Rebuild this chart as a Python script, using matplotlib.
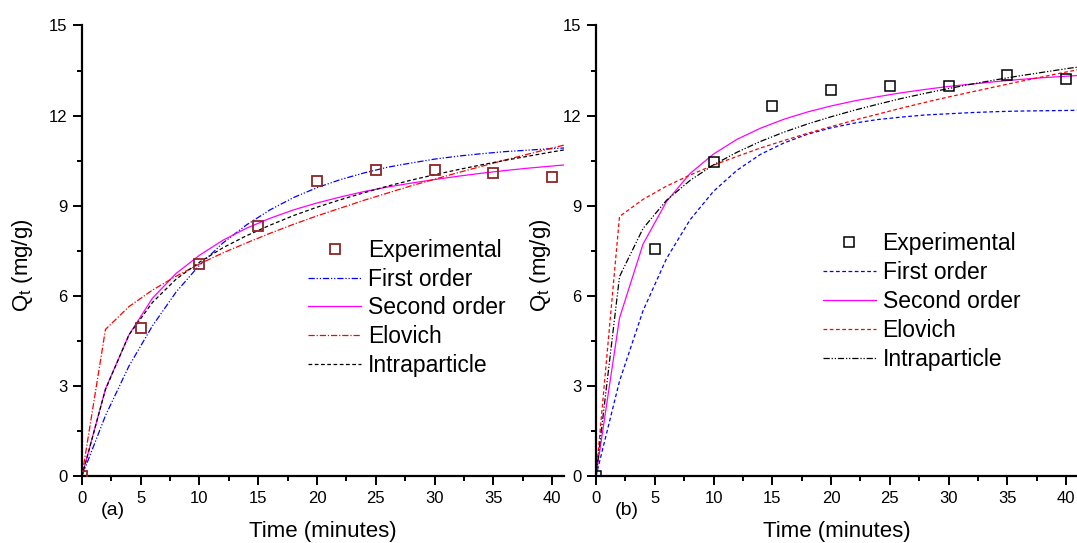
import matplotlib
matplotlib.use("Agg")
import matplotlib.pyplot as plt
from matplotlib.ticker import MultipleLocator

plt.rcParams['font.family'] = ['Liberation Sans', 'DejaVu Sans']
plt.rcParams['mathtext.fontset'] = 'custom'
plt.rcParams['mathtext.rm'] = 'Liberation Sans'
plt.rcParams['mathtext.it'] = 'Liberation Sans:italic'

# Sampling times (minutes)
t_exp = [0, 5, 10, 15, 20, 25, 30, 35, 40]
t_fit = [0, 2, 4, 6, 8, 10, 12, 14, 16, 18, 20, 22, 24, 26, 28, 30, 32, 34, 36, 38, 40, 42]

# Panel (a)
a_exp = [0.0, 4.92, 7.06, 8.31, 9.83, 10.20, 10.20, 10.08, 9.97]
a_first = [0.0, 2.01, 3.66, 5.00, 6.12, 7.02, 7.76, 8.36, 8.86, 9.27, 9.60, 9.87,
           10.09, 10.28, 10.42, 10.55, 10.65, 10.73, 10.80, 10.85, 10.90, 10.94]
a_second = [0.0, 2.90, 4.70, 5.92, 6.74, 7.35, 7.85, 8.25, 8.58, 8.86, 9.09, 9.29,
            9.47, 9.62, 9.75, 9.87, 9.98, 10.08, 10.17, 10.25, 10.32, 10.39]
a_elovich = [0.0, 4.88, 5.64, 6.19, 6.65, 7.06, 7.43, 7.76, 8.08, 8.38, 8.66, 8.92,
             9.18, 9.42, 9.66, 9.88, 10.10, 10.31, 10.52, 10.72, 10.92, 11.11]
a_intra = [0.0, 2.88, 4.70, 5.78, 6.55, 7.12, 7.60, 8.00, 8.35, 8.67, 8.95, 9.20,
           9.43, 9.65, 9.85, 10.03, 10.20, 10.36, 10.51, 10.65, 10.79, 10.92]

# Panel (b)
b_exp = [0.0, 7.56, 10.44, 12.33, 12.85, 12.97, 12.97, 13.34, 13.23]
b_first = [0.0, 3.16, 5.50, 7.24, 8.53, 9.48, 10.18, 10.71, 11.09, 11.38, 11.59, 11.75,
           11.87, 11.95, 12.02, 12.06, 12.10, 12.13, 12.15, 12.16, 12.17, 12.18]
b_second = [0.0, 5.26, 7.72, 9.14, 10.07, 10.72, 11.21, 11.58, 11.88, 12.12, 12.32, 12.49,
            12.63, 12.76, 12.87, 12.97, 13.05, 13.13, 13.20, 13.26, 13.31, 13.36]
b_elovich = [0.0, 8.64, 9.21, 9.65, 10.02, 10.35, 10.64, 10.92, 11.17, 11.41, 11.63, 11.85,
             12.05, 12.25, 12.44, 12.62, 12.79, 12.96, 13.13, 13.29, 13.45, 13.60]
b_intra = [0.0, 6.64, 8.24, 9.18, 9.84, 10.36, 10.78, 11.14, 11.45, 11.72, 11.96, 12.18,
           12.38, 12.57, 12.74, 12.90, 13.05, 13.19, 13.32, 13.44, 13.56, 13.67]

labels = ["Experimental", "First order", "Second order", "Elovich", "Intraparticle"]
x_ticks = [0, 5, 10, 15, 20, 25, 30, 35, 40]
y_ticks = [0, 3, 6, 9, 12, 15]

fig = plt.figure(figsize=(10.77, 5.43), dpi=100)
ax_a = fig.add_axes([0.0761, 0.1234, 0.4474, 0.8297])
ax_b = fig.add_axes([0.5534, 0.1234, 0.4474, 0.8297])

lw = 0.9

# Panel (a) curves
ax_a.plot(t_exp, a_exp, linestyle='none', marker='s', markersize=7.5,
          markerfacecolor='none', markeredgecolor='#8B2525', markeredgewidth=1.3,
          label=labels[0], zorder=5)
ax_a.plot(t_fit, a_first, color='#0000FF', lw=lw, dashes=[5, 1.5, 1, 1.5, 1, 1.5],
          label=labels[1])
ax_a.plot(t_fit, a_second, color='#FF00FF', lw=lw, linestyle='-', label=labels[2])
ax_a.plot(t_fit, a_elovich, color='#FF0000', lw=lw, dashes=[5, 1.5, 1, 1.5],
          label=labels[3])
ax_a.plot(t_fit, a_intra, color='#000000', lw=lw, dashes=[3, 2], label=labels[4])

# Panel (b) curves
ax_b.plot(t_exp, b_exp, linestyle='none', marker='s', markersize=7.5,
          markerfacecolor='none', markeredgecolor='#000000', markeredgewidth=1.1,
          label=labels[0], zorder=5)
ax_b.plot(t_fit, b_first, color='#0000FF', lw=lw, dashes=[3, 2], label=labels[1])
ax_b.plot(t_fit, b_second, color='#FF00FF', lw=lw, linestyle='-', label=labels[2])
ax_b.plot(t_fit, b_elovich, color='#FF0000', lw=lw, dashes=[3, 2], label=labels[3])
ax_b.plot(t_fit, b_intra, color='#000000', lw=lw, dashes=[5, 1.5, 1, 1.5, 1, 1.5],
          label=labels[4])

for ax, tag, leg_anchor, ylab_x in ((ax_a, "(a)", (0.470, 0.527), -0.0975),
                                     (ax_b, "(b)", (0.471, 0.542), -0.089)):
    ax.set_xlim(0, 41)
    ax.set_ylim(0, 15)
    ax.set_xticks(x_ticks)
    ax.set_yticks(y_ticks)
    ax.xaxis.set_minor_locator(MultipleLocator(2.5))
    ax.yaxis.set_minor_locator(MultipleLocator(1.5))
    for side in ('top', 'right'):
        ax.spines[side].set_visible(False)
    for side in ('left', 'bottom'):
        ax.spines[side].set_linewidth(1.6)
    ax.tick_params(which='major', direction='out', length=6.5, width=1.4,
                   labelsize=12, pad=4)
    ax.tick_params(which='minor', direction='out', length=3.8, width=1.4)
    ax.set_xlabel("Time (minutes)", fontsize=16, labelpad=11)
    ax.set_ylabel("Q$_{\\mathrm{t}}$ (mg/g)", fontsize=16)
    ax.yaxis.set_label_coords(ylab_x, 0.468)
    ax.text(0.064, -0.077, tag, transform=ax.transAxes, fontsize=14,
            ha='center', va='center')
    ax.legend(loc='upper left', bbox_to_anchor=leg_anchor, frameon=False,
              fontsize=16.5, borderpad=0, borderaxespad=0, handlelength=2.3,
              handletextpad=0.3, labelspacing=0.26)
    ax.patch.set_alpha(0)

fig.savefig("out.png", dpi=100)
